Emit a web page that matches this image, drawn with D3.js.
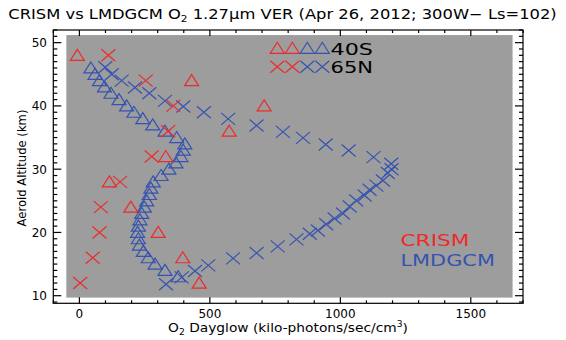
<!DOCTYPE html>
<meta charset="utf-8">
<script src="https://d3js.org/d3.v7.min.js"></script>
<style>
  body { margin: 0; background: #fff; }
  text { font-family: "DejaVu Sans", "Liberation Sans", sans-serif; fill: #000; }
</style>
<div id="my_dataviz"></div>
<script>

// CRISM retrievals (kilo-photons/sec/cm3 vs km)
var crism40S_val = [-8, 430, 708, 574, 331, 115, 197, 302, 396, 459];
var crism40S_alt = [48, 44, 40, 36, 32, 28, 24, 20, 16, 12];
var crism65N_val = [111, 254, 360, 340, 277, 156, 82, 77, 51, 3];
var crism65N_alt = [48, 44, 40, 36, 32, 28, 24, 20, 16, 12];

// LMDGCM model profiles
var lmd40S_val = [44, 60, 77, 96, 121, 152, 181, 209, 243, 281, 328, 373, 404, 398, 389, 370,
                  343, 313, 283, 274, 268, 258, 249, 239, 232, 226, 223, 226, 230, 245, 264, 290, 328, 379];
var lmd40S_alt = [46, 45, 44, 43, 42, 41, 40, 39, 38, 37, 36, 35, 34, 33, 32, 31,
                  30, 29, 28, 27, 26, 25, 24, 23, 22, 21, 20, 19, 18, 17, 16, 15, 14, 13];
var lmd65N_val = [99, 124, 162, 213, 268, 328, 398, 477, 570, 679, 780, 857, 944, 1032, 1127, 1195,
                  1196, 1182, 1163, 1138, 1112, 1093, 1061, 1036, 1010, 978, 946, 914, 883, 832, 760,
                  679, 589, 494, 443, 392, 332];
var lmd65N_alt = [46.1, 45, 44, 42.9, 42, 40.8, 39.9, 39, 37.95, 36.9, 35.9, 34.95, 33.9, 32.95, 31.9, 30.85,
                  30, 29.4, 28.2, 27.4, 26.75, 25.85, 25.06, 24.1, 23, 22.2, 21.3, 20.3, 19.8, 18.9, 17.8,
                  16.75, 15.9, 14.8, 13.9, 12.9, 11.8];

var xTicks = [0, 500, 1000, 1500];
var yTicks = [10, 20, 30, 40, 50];
var legendSites = ["40S", "65N"];
var legendSources = ["CRISM", "LMDGCM"];

var red = "#ee2a2a", blue = "#3553b0", gray = "#9d9d9d";

var W = 566, H = 340;
var svg = d3.select("#my_dataviz").append("svg")
    .attr("width", W).attr("height", H);

var x = d3.scaleLinear().domain([-100, 1700]).range([53.3, 523]);
var y = d3.scaleLinear().domain([8.8, 52]).range([303.3, 30]);

// stretch a text group horizontally to a target width (IDL fonts are wide)
function fit(g, tx, ty, w, extra) {
  var b = g.select("text").node().getBBox();
  g.attr("transform", "translate(" + tx + "," + ty + ")" + (extra || "") + " scale(" + (w / b.width) + ",1)");
}

// gray background box (data coords)
svg.append("rect")
  .attr("x", x(-50)).attr("y", y(51.2))
  .attr("width", x(1660) - x(-50)).attr("height", y(9.7) - y(51.2))
  .attr("fill", gray);

// axes: ticks drawn inward like IDL
var x0 = x.range()[0], x1 = x.range()[1], y0 = y.range()[0], y1 = y.range()[1];
var fr = svg.append("g").attr("stroke", "#000").attr("stroke-width", 1.2).attr("fill", "none");
fr.append("rect").attr("x", x0).attr("y", y1).attr("width", x1 - x0).attr("height", y0 - y1);

d3.range(-100, 1701, 100).forEach(function(v) {
  var len = (v % 500 === 0) ? 6 : 3;
  fr.append("line").attr("x1", x(v)).attr("x2", x(v)).attr("y1", y0).attr("y2", y0 - len);
  fr.append("line").attr("x1", x(v)).attr("x2", x(v)).attr("y1", y1).attr("y2", y1 + len);
});
d3.range(9, 53, 1).forEach(function(v) {
  var len = (v % 10 === 0) ? 8 : 4;
  fr.append("line").attr("x1", x0).attr("x2", x0 + len).attr("y1", y(v)).attr("y2", y(v));
  fr.append("line").attr("x1", x1).attr("x2", x1 - len).attr("y1", y(v)).attr("y2", y(v));
});

svg.append("g").selectAll("text").data(xTicks).enter().append("text")
  .attr("x", function(d) { return x(d); }).attr("y", 318)
  .attr("text-anchor", "middle").style("font-size", "12px")
  .text(function(d) { return d; });
svg.append("g").selectAll("text").data(yTicks).enter().append("text")
  .attr("x", 47).attr("y", function(d) { return y(d) + 4.5; })
  .attr("text-anchor", "end").style("font-size", "12px")
  .text(function(d) { return d; });

// title
var tg = svg.append("g");
var title = tg.append("text").attr("text-anchor", "middle").style("font-size", "14px");
title.append("tspan").text("CRISM vs LMDGCM O");
title.append("tspan").attr("dy", 3).style("font-size", "9px").text("2");
title.append("tspan").attr("dy", -3).text(" 1.27\u03bcm VER (Apr 26, 2012; 300W\u2212 Ls=102)");
fit(tg, 282.5, 19, 549);

// x label
var xg = svg.append("g");
var xl = xg.append("text").attr("text-anchor", "middle").style("font-size", "12px");
xl.append("tspan").text("O");
xl.append("tspan").attr("dy", 3).style("font-size", "8px").text("2");
xl.append("tspan").attr("dy", -3).text(" Dayglow (kilo-photons/sec/cm");
xl.append("tspan").attr("dy", -5).style("font-size", "8px").text("3");
xl.append("tspan").attr("dy", 5).text(")");
fit(xg, 288, 332, 240);

// y label
var yg = svg.append("g");
yg.append("text").attr("text-anchor", "middle").style("font-size", "12px")
  .text("Aeroid Altitude (km)");
fit(yg, 26, 168, 117, " rotate(-90)");

// markers
var triPath = "M0,-6L7,5L-7,5Z";
var crossPath = "M-7,-6L7,6M-7,6L7,-6";

function drawSeries(vals, alts, path, color) {
  svg.append("g").selectAll("path").data(vals).enter().append("path")
    .attr("d", path)
    .attr("transform", function(d, i) { return "translate(" + x(d) + "," + y(alts[i]) + ")"; })
    .attr("fill", "none").attr("stroke", color).attr("stroke-width", 1.2);
}

drawSeries(lmd40S_val, lmd40S_alt, triPath, blue);
drawSeries(lmd65N_val, lmd65N_alt, crossPath, blue);
drawSeries(crism40S_val, crism40S_alt, triPath, red);
drawSeries(crism65N_val, crism65N_alt, crossPath, red);

// legend for sites
var legCols = [red, red, blue, blue];
legendSites.forEach(function(site, r) {
  var ly = 48.3 + r * 18.4;
  var g = svg.append("g");
  legCols.forEach(function(c, k) {
    g.append("path").attr("d", r === 0 ? triPath : crossPath)
      .attr("transform", "translate(" + (277.3 + k * 15) + "," + ly + ")")
      .attr("fill", "none").attr("stroke", c).attr("stroke-width", 1.2);
  });
  var tgl = svg.append("g");
  tgl.append("text").style("font-size", "15.5px").text(site);
  fit(tgl, 330.5, ly + 6.3, 42.5);
});

// legend for sources
legendSources.forEach(function(s, i) {
  var g = svg.append("g");
  g.append("text").style("font-size", "16.5px").style("fill", i === 0 ? red : blue).text(s);
  fit(g, 400.5, 246 + i * 19.5, i === 0 ? 69 : 94.5);
});

</script>
